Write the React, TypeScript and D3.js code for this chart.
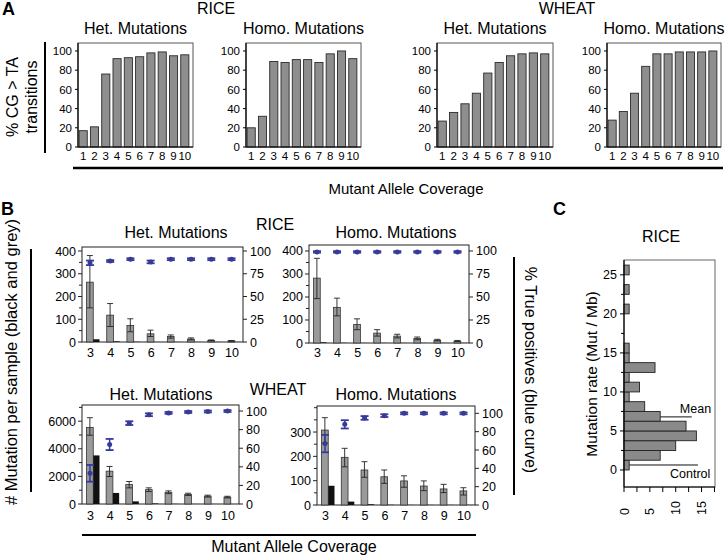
import React from "react";
import * as d3 from "d3";

const FONT = "'Liberation Sans', Arial, Helvetica, sans-serif";

// ---------- Panel A data ----------
const coverageA = ["1", "2", "3", "4", "5", "6", "7", "8", "9", "10"];
const riceHetCG = [17, 21, 76, 92, 93, 94, 98, 99, 95, 96];
const riceHomoCG = [20, 32, 89, 88, 91, 91, 88, 97, 100, 92];
const wheatHetCG = [27, 36, 45, 56, 77, 88, 95, 97, 98, 97];
const wheatHomoCG = [28, 37, 56, 84, 97, 97, 99, 99, 99, 100];
const ticksA = [0, 20, 40, 60, 80, 100];

// ---------- Panel B data ----------
const coverageB = ["3", "4", "5", "6", "7", "8", "9", "10"];

const riceHetGrey = [263, 118, 73, 36, 24, 13, 7, 5];
const riceHetGreyHi = [380, 169, 102, 52, 31, 18, 9, 6];
const riceHetGreyLo = [150, 68, 45, 24, 17, 9, 5, 4];
const riceHetBlack = [12, 3, 1, 0.5, 0.5, 0.5, 0.5, 0.5];
const riceHetTP = [87, 89, 91, 88, 91, 91, 91, 91];
const riceHetTPErr = [2.5, 1, 1, 1.5, 1, 1, 1, 1];

const riceHomoGrey = [282, 155, 80, 43, 30, 20, 12, 8];
const riceHomoGreyHi = [368, 195, 105, 58, 38, 26, 16, 11];
const riceHomoGreyLo = [193, 118, 58, 30, 22, 14, 9, 6];
const riceHomoBlack = [3, 1, 0.5, 0.5, 0.5, 0.5, 0.5, 0.5];
const riceHomoTP = [99, 99, 99, 99, 99, 99, 99, 99];
const riceHomoTPErr = [0.8, 0.8, 0.8, 0.8, 0.8, 0.8, 0.8, 0.8];

const wheatHetGrey = [5550, 2380, 1410, 1040, 850, 700, 570, 500];
const wheatHetGreyHi = [6250, 2720, 1630, 1170, 950, 780, 640, 560];
const wheatHetGreyLo = [4980, 1990, 1170, 900, 750, 620, 500, 440];
const wheatHetBlack = [3520, 800, 190, 40, 10, 5, 3, 2];
const wheatHetTP = [33, 64, 87, 96, 98, 99, 99.5, 100];
const wheatHetTPErr = [9, 6, 2, 1.5, 1, 1, 1, 1];

const wheatHomoGrey = [308, 196, 144, 116, 99, 78, 66, 58];
const wheatHomoGreyHi = [359, 233, 178, 144, 120, 99, 85, 71];
const wheatHomoGreyLo = [254, 157, 114, 89, 73, 59, 51, 41];
const wheatHomoBlack = [79, 14, 3, 1, 0.5, 0.5, 0.5, 0.5];
const wheatHomoTP = [67, 88, 95, 97.5, 100, 100, 100, 100];
const wheatHomoTPErr = [9.5, 4.5, 2, 1.5, 1, 1, 1, 1];

const riceLeftTicks = [0, 100, 200, 300, 400];
const riceLeftMinor = [50, 150, 250, 350];
const riceRightTicks = [0, 25, 50, 75, 100];
const wheatHetLeftTicks = [0, 2000, 4000, 6000];
const wheatHetLeftMinor = [1000, 3000, 5000, 7000];
const wheatHomoLeftTicks = [0, 100, 200, 300];
const wheatHomoLeftMinor = [50, 150, 250, 350, 400];
const wheatRightTicks = [0, 20, 40, 60, 80, 100];

// ---------- Panel C data ----------
const rateBins = [0, 1.25, 2.5, 3.75, 5, 6.25, 7.5, 8.75, 10, 11.25, 12.5, 13.75, 15, 20, 22.5, 25];
const rateCounts = [1, 7, 10, 14, 12, 7, 4, 1, 3, 1, 6, 1, 1, 1, 1, 1];
const binWidth = 1.25;
const meanRate = 6.8;
const controlRate = 0.64;
const rateTicks = [0, 5, 10, 15, 20, 25];
const rateMinor = [2.5, 7.5, 12.5, 17.5, 22.5];
const countTicks = [0, 5, 10, 15];
const countMinor = [2.5, 7.5, 12.5, 17.5];

const BLUE = "#363b98";

function CGPanel({ x0, x1, values, title }) {
  const top = 43, bot = 147;
  const y = d3.scaleLinear().domain([0, 108.3]).range([bot, top]);
  const x = d3.scaleBand().domain(coverageA).range([x0, x1 - 3]).paddingInner(0.28).paddingOuter(0.1);
  return (
    <g>
      <text x={(x0 + x1) / 2} y={34} textAnchor="middle" fontSize={16}>{title}</text>
      {values.map((v, i) => (
        <rect key={i} x={x(coverageA[i])} y={y(v)} width={x.bandwidth()} height={bot - y(v)}
          fill="#8e8e8e" stroke="#2a2a2a" strokeWidth={0.9} />
      ))}
      <rect x={x0} y={top} width={x1 - x0} height={bot - top} fill="none" stroke="#555" strokeWidth={1} />
      <line x1={x0} x2={x0} y1={top} y2={bot} stroke="#000" strokeWidth={1.2} />
      <line x1={x0} x2={x1} y1={bot} y2={bot} stroke="#000" strokeWidth={1.2} />
      {ticksA.map((t) => (
        <g key={t}>
          <line x1={x0 - 3} x2={x0} y1={y(t)} y2={y(t)} stroke="#000" />
          <text x={x0 - 6} y={y(t)} dy="0.36em" textAnchor="end" fontSize={11.5}>{t}</text>
        </g>
      ))}
      {coverageA.map((c) => (
        <text key={c} x={x(c) + x.bandwidth() / 2} y={160} textAnchor="middle" fontSize={11.5}>{c}</text>
      ))}
    </g>
  );
}

function CovPanel(p) {
  const { x0, x1, top, bot, leftMax, rightMax, leftTicks, leftMinor, rightTicks,
    grey, greyHi, greyLo, black, tp, tpErr, title, titleX, titleY, labY } = p;
  const yL = d3.scaleLinear().domain([0, leftMax]).range([bot, top]);
  const yR = d3.scaleLinear().domain([0, rightMax]).range([bot, top]);
  const x = d3.scalePoint().domain(coverageB).range([x0 + 8.5, x1 - 11]);
  const sub = d3.scaleBand().domain(["grey", "black"]).range([-4, 9.5]).paddingInner(0);
  const bw = sub.bandwidth();
  return (
    <g>
      <text x={titleX} y={titleY} textAnchor="middle" fontSize={16}>{title}</text>
      <rect x={x0} y={top} width={x1 - x0} height={bot - top} fill="#fff" stroke="#222" strokeWidth={1} />
      {coverageB.map((c, i) => {
        const cx = x(c);
        const gx = cx + sub("grey");
        const bx = cx + sub("black");
        const gc = gx + bw / 2;
        return (
          <g key={c}>
            <rect x={gx} y={yL(grey[i])} width={bw} height={bot - yL(grey[i])} fill="#9a9a9a" stroke="#333" strokeWidth={0.8} />
            <rect x={bx} y={yL(black[i])} width={bw - 0.5} height={bot - yL(black[i])} fill="#111" />
            <line x1={gc} x2={gc} y1={yL(greyHi[i])} y2={yL(greyLo[i])} stroke="#222" strokeWidth={0.9} />
            <line x1={gc - 3} x2={gc + 3} y1={yL(greyHi[i])} y2={yL(greyHi[i])} stroke="#222" strokeWidth={0.9} />
            <line x1={gc - 3} x2={gc + 3} y1={yL(greyLo[i])} y2={yL(greyLo[i])} stroke="#222" strokeWidth={0.9} />
          </g>
        );
      })}
      {coverageB.map((c, i) => {
        const cx = x(c) - 0.5;
        return (
          <g key={"tp" + c}>
            <line x1={cx} x2={cx} y1={yR(tp[i] + tpErr[i])} y2={yR(tp[i] - tpErr[i])} stroke={BLUE} strokeWidth={1.5} />
            <line x1={cx - 4} x2={cx + 4} y1={yR(tp[i] + tpErr[i])} y2={yR(tp[i] + tpErr[i])} stroke={BLUE} strokeWidth={1.8} />
            <line x1={cx - 4} x2={cx + 4} y1={yR(tp[i] - tpErr[i])} y2={yR(tp[i] - tpErr[i])} stroke={BLUE} strokeWidth={1.8} />
            <circle cx={cx} cy={yR(tp[i])} r={2.5} fill={BLUE} />
          </g>
        );
      })}
      {leftTicks.map((t) => (
        <g key={"l" + t}>
          <line x1={x0 - 4} x2={x0} y1={yL(t)} y2={yL(t)} stroke="#222" />
          <text x={x0 - 6} y={yL(t)} dy="0.36em" textAnchor="end" fontSize={12.5}>{t}</text>
        </g>
      ))}
      {leftMinor.filter((t) => t < leftMax).map((t) => (
        <line key={"lm" + t} x1={x0 - 3} x2={x0} y1={yL(t)} y2={yL(t)} stroke="#222" />
      ))}
      {rightTicks.map((t) => (
        <g key={"r" + t}>
          <line x1={x1} x2={x1 + 4} y1={yR(t)} y2={yR(t)} stroke="#222" />
          <text x={x1 + 7} y={yR(t)} dy="0.36em" textAnchor="start" fontSize={12.5}>{t}</text>
        </g>
      ))}
      {coverageB.map((c) => (
        <text key={"x" + c} x={x(c)} y={labY} textAnchor="middle" fontSize={12.5}>{c}</text>
      ))}
    </g>
  );
}

function RatePanel() {
  const x0 = 624, x1 = 715, top = 260, bot = 487;
  const x = d3.scaleLinear().domain([0, 17.6]).range([x0, x1]);
  const y = d3.scaleLinear().domain([-2.18, 26.9]).range([bot, top]);
  return (
    <g>
      <text x={661} y={242} textAnchor="middle" fontSize={16}>RICE</text>
      <rect x={x0} y={top} width={x1 - x0} height={bot - top} fill="none" stroke="#666" strokeWidth={1} />
      <line x1={x(7)} x2={x(13.1)} y1={y(meanRate)} y2={y(meanRate)} stroke="#111" strokeWidth={1} />
      <line x1={x(0)} x2={x(14.3)} y1={y(controlRate)} y2={y(controlRate)} stroke="#111" strokeWidth={1} />
      {rateBins.map((b, i) => (
        <rect key={b} x={x(0)} y={y(b + binWidth)} width={x(rateCounts[i]) - x(0)} height={y(b) - y(b + binWidth)}
          fill="#8a8a8a" stroke="#222" strokeWidth={0.9} />
      ))}
      <line x1={x0} x2={x0} y1={top} y2={bot} stroke="#000" strokeWidth={1.2} />
      <line x1={x0} x2={x1} y1={bot} y2={bot} stroke="#000" strokeWidth={1.2} />
      {rateTicks.map((t) => (
        <g key={t}>
          <line x1={x0 - 4} x2={x0} y1={y(t)} y2={y(t)} stroke="#000" />
          <text x={x0 - 7} y={y(t)} dy="0.36em" textAnchor="end" fontSize={12.5}>{t}</text>
        </g>
      ))}
      {rateMinor.map((t) => (
        <line key={"m" + t} x1={x0 - 3} x2={x0} y1={y(t)} y2={y(t)} stroke="#000" />
      ))}
      {countTicks.concat(countMinor).map((t) => (
        <line key={"c" + t} x1={x(t)} x2={x(t)} y1={bot} y2={bot + 5} stroke="#000" />
      ))}
      {countTicks.map((t) => (
        <text key={"cl" + t} transform={`translate(${x(t)},515) rotate(-90)`} dy="0.36em" textAnchor="start" fontSize={12.5}>{t}</text>
      ))}
      <text x={x(10.8)} y={y(meanRate) - 4} fontSize={12.5}>Mean</text>
      <text x={x(8.9)} y={y(controlRate) + 13} fontSize={12.5}>Control</text>
    </g>
  );
}

export default function App() {
  return (
    <svg width={725} height={559} fontFamily={FONT}
      style={{ position: "absolute", left: 0, top: 0, display: "block", background: "#fff" }}>
      <rect x={0} y={0} width={725} height={559} fill="#fff" />
      {/* Panel A */}
      <text x={2} y={15} fontSize={18} fontWeight="bold">A</text>
      <text x={216} y={14} textAnchor="middle" fontSize={16}>RICE</text>
      <text x={567} y={14} textAnchor="middle" fontSize={16}>WHEAT</text>
      <CGPanel x0={78} x1={193} values={riceHetCG} title="Het. Mutations" />
      <CGPanel x0={246} x1={361} values={riceHomoCG} title="Homo. Mutations" />
      <CGPanel x0={437} x1={553} values={wheatHetCG} title="Het. Mutations" />
      <CGPanel x0={607} x1={721} values={wheatHomoCG} title="Homo. Mutations" />
      <text transform="translate(18,97) rotate(-90)" textAnchor="middle" fontSize={16}>% CG &gt; TA</text>
      <text transform="translate(37,97) rotate(-90)" textAnchor="middle" fontSize={16}>transitions</text>
      <line x1={45} x2={45} y1={42} y2={153} stroke="#000" strokeWidth={2} />
      <line x1={73} x2={723} y1={168} y2={168} stroke="#000" strokeWidth={2.5} />
      <text x={406} y={194} textAnchor="middle" fontSize={15}>Mutant Allele Coverage</text>

      {/* Panel B */}
      <text x={1} y={215} fontSize={18} fontWeight="bold">B</text>
      <text x={275} y={230} textAnchor="middle" fontSize={16}>RICE</text>
      <text x={278} y={395} textAnchor="middle" fontSize={16}>WHEAT</text>
      <CovPanel x0={82} x1={243} top={247} bot={342} leftMax={417.6} rightMax={104.4}
        leftTicks={riceLeftTicks} leftMinor={riceLeftMinor} rightTicks={riceRightTicks}
        grey={riceHetGrey} greyHi={riceHetGreyHi} greyLo={riceHetGreyLo} black={riceHetBlack}
        tp={riceHetTP} tpErr={riceHetTPErr} title="Het. Mutations" titleX={176} titleY={238} labY={357} />
      <CovPanel x0={309} x1={469} top={245} bot={343} leftMax={426} rightMax={106.5}
        leftTicks={riceLeftTicks} leftMinor={riceLeftMinor} rightTicks={riceRightTicks}
        grey={riceHomoGrey} greyHi={riceHomoGreyHi} greyLo={riceHomoGreyLo} black={riceHomoBlack}
        tp={riceHomoTP} tpErr={riceHomoTPErr} title="Homo. Mutations" titleX={396} titleY={238} labY={357} />
      <CovPanel x0={82} x1={239} top={405} bot={504} leftMax={7171} rightMax={106.5}
        leftTicks={wheatHetLeftTicks} leftMinor={wheatHetLeftMinor} rightTicks={wheatRightTicks}
        grey={wheatHetGrey} greyHi={wheatHetGreyHi} greyLo={wheatHetGreyLo} black={wheatHetBlack}
        tp={wheatHetTP} tpErr={wheatHetTPErr} title="Het. Mutations" titleX={161} titleY={400} labY={520} />
      <CovPanel x0={317} x1={475} top={406} bot={505} leftMax={407} rightMax={108}
        leftTicks={wheatHomoLeftTicks} leftMinor={wheatHomoLeftMinor} rightTicks={wheatRightTicks}
        grey={wheatHomoGrey} greyHi={wheatHomoGreyHi} greyLo={wheatHomoGreyLo} black={wheatHomoBlack}
        tp={wheatHomoTP} tpErr={wheatHomoTPErr} title="Homo. Mutations" titleX={396} titleY={400} labY={520} />
      <text transform="translate(17,362) rotate(-90)" textAnchor="middle" fontSize={16.5}>
        # Mutation per sample (black and grey)
      </text>
      <line x1={31} x2={31} y1={249} y2={492} stroke="#000" strokeWidth={2} />
      <line x1={514} x2={514} y1={257} y2={495} stroke="#000" strokeWidth={2} />
      <text transform="translate(525,370) rotate(90)" textAnchor="middle" fontSize={16}>
        % True positives (blue curve)
      </text>
      <line x1={82} x2={476} y1={535} y2={535} stroke="#000" strokeWidth={2} />
      <text x={294} y={552} textAnchor="middle" fontSize={16}>Mutant Allele Coverage</text>

      {/* Panel C */}
      <text x={553} y={215} fontSize={18} fontWeight="bold">C</text>
      <RatePanel />
      <text transform="translate(597,374) rotate(-90)" textAnchor="middle" fontSize={15.5}>
        Mutation rate (Mut / Mb)
      </text>
    </svg>
  );
}
